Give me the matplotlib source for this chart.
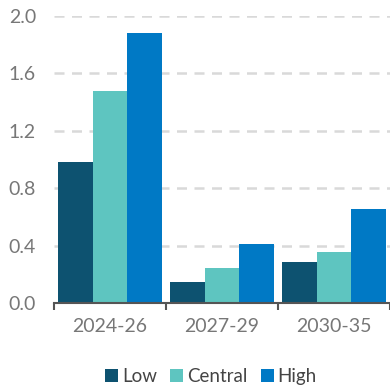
import numpy as np
import matplotlib.pyplot as plt

categories = ["2024-26", "2027-29", "2030-35"]
low = [0.98, 0.145, 0.285]
central = [1.48, 0.245, 0.355]
high = [1.88, 0.41, 0.655]
series_names = ["Low", "Central", "High"]
colors = ["#0d5270", "#5ec5c0", "#0079c5"]
yticks = [0.0, 0.4, 0.8, 1.2, 1.6, 2.0]

plt.rcParams["font.family"] = ["Lato", "DejaVu Sans"]

fig = plt.figure(figsize=(3.9, 3.85), dpi=100)
ax = fig.add_axes([54 / 390, 1 - 303 / 385, 1 - 54 / 390, (303 - 16) / 385])

x = np.arange(len(categories))
w = 0.31
for i, (vals, name, c) in enumerate(zip([low, central, high], series_names, colors)):
    ax.bar(x + (i - 1) * w, vals, width=w, color=c, label=name, zorder=3)

ax.set_xlim(-0.5, 2.5)
ax.set_ylim(0, 2.0)
ax.set_yticks(yticks)
ax.set_yticklabels([f"{v:.1f}" for v in yticks])
ax.yaxis.grid(True, color="#d9d9d9", linestyle=(0, (4, 3)), linewidth=1.8, zorder=0)

ax.set_xticks(x)
ax.set_xticklabels(categories)
ax.set_xticks([-0.5, 0.5, 1.5, 2.5], minor=True)
ax.tick_params(axis="x", which="major", length=0, pad=11, labelsize=14, labelcolor="#777777")
ax.tick_params(axis="x", which="minor", length=5, width=1.5, color="#555555")
ax.tick_params(axis="y", length=0, pad=13, labelsize=14, labelcolor="#777777")

for s in ["top", "right", "left"]:
    ax.spines[s].set_visible(False)
ax.spines["bottom"].set_color("#555555")
ax.spines["bottom"].set_linewidth(1.5)
ax.spines["bottom"].set_zorder(4)

fig.legend(loc="lower center", bbox_to_anchor=(0.541, -0.045), ncol=3, frameon=False,
           fontsize=13.5, handlelength=0.7, handleheight=0.7, handletextpad=0.2,
           columnspacing=0.7, labelcolor="#444444")

fig.savefig("out.png", dpi=100)
